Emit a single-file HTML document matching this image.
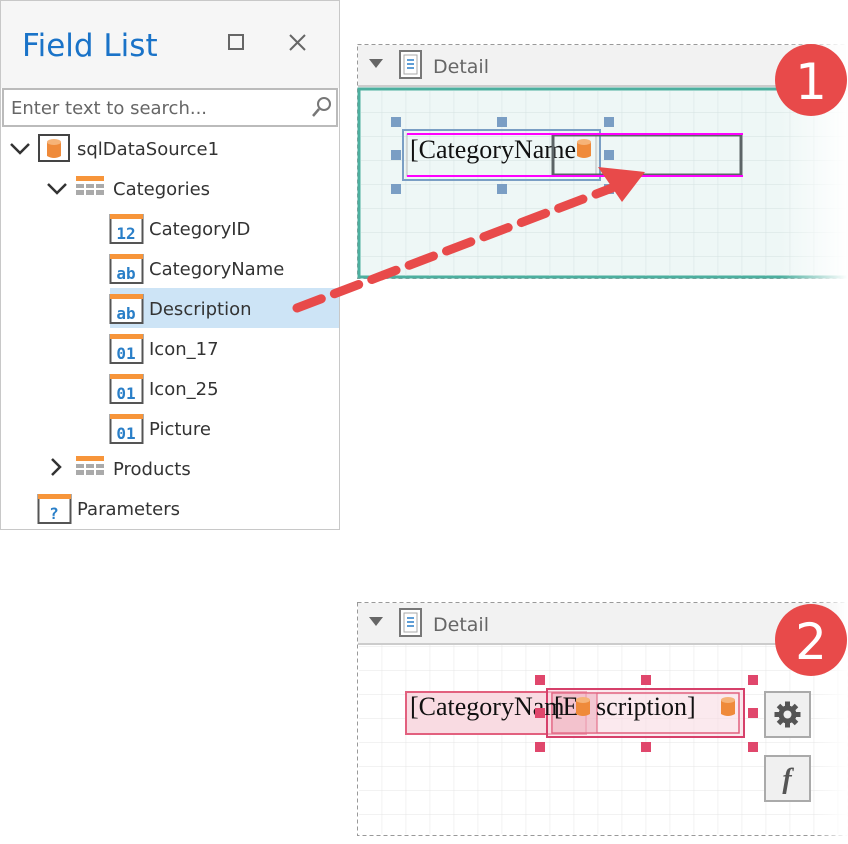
<!DOCTYPE html>
<html><head><meta charset="utf-8"><style>
html,body{margin:0;padding:0;background:#fff;}
svg{display:block;font-family:"Liberation Sans",sans-serif;}
.t{font-family:"DejaVu Sans","Liberation Sans",sans-serif;font-size:18px;fill:#333;}
.serif{font-family:"Liberation Serif",serif;font-size:26px;fill:#111;}
</style></head><body>
<svg width="848" height="844" viewBox="0 0 848 844" xmlns="http://www.w3.org/2000/svg">
<defs>
<pattern id="g1" x="381.7" y="112" width="24" height="24" patternUnits="userSpaceOnUse">
<path d="M0 0V24M0 0H24" stroke="#d4e2e0" stroke-width="1" fill="none"/></pattern>
<pattern id="g2" x="381.7" y="670" width="24" height="24" patternUnits="userSpaceOnUse">
<path d="M0 0V24M0 0H24" stroke="#e4e4e4" stroke-width="1" fill="none"/></pattern>
<linearGradient id="fade" x1="0" x2="1" y1="0" y2="0">
<stop offset="0" stop-color="#fff" stop-opacity="0"/><stop offset="1" stop-color="#fff" stop-opacity="1"/></linearGradient>
<g id="fi"><rect x="0.5" y="0" width="32" height="28" fill="#fff" stroke="#555" stroke-width="2"/><rect x="0" y="-1" width="33" height="5" fill="#f7953a"/></g>
<g id="cyl"><path d="M-7 -7 Q0 -11 7 -7 V7 Q0 11 -7 7Z" fill="#ef8a3a"/><ellipse cx="0" cy="-7" rx="7" ry="3" fill="#f6b378"/></g>
</defs>

<rect x="0.5" y="0.5" width="339" height="529" fill="#fff" stroke="#c8c8c8"/>
<rect x="1" y="1" width="338" height="87" fill="#f6f6f6"/>
<text x="22" y="56" font-family="DejaVu Sans, Liberation Sans, sans-serif" font-size="31" fill="#1a73c8">Field List</text>
<rect x="229" y="35" width="14" height="14" fill="none" stroke="#666" stroke-width="2"/>
<path d="M290 35L305 50M305 35L290 50" stroke="#666" stroke-width="2"/>
<rect x="3" y="89" width="334" height="37" fill="#fff" stroke="#bbb" stroke-width="2"/>
<text x="11" y="114" class="t" style="fill:#666">Enter text to search...</text>
<circle cx="324" cy="104" r="6" fill="none" stroke="#777" stroke-width="2"/><path d="M319 109L313 116" stroke="#777" stroke-width="2.5"/>

<path d="M11 144l9 9 9-9" stroke="#333" stroke-width="2.5" fill="none"/>
<rect x="39" y="135" width="30" height="26" fill="#fff" stroke="#444" stroke-width="2"/>
<use href="#cyl" x="54" y="149"/>
<text x="77" y="155" class="t">sqlDataSource1</text>

<path d="M48 184l9 9 9-9" stroke="#333" stroke-width="2.5" fill="none"/>
<rect x="76" y="176" width="28" height="5" fill="#f7953a"/>
<g fill="#aaa"><rect x="76" y="184" width="8" height="4"/><rect x="86" y="184" width="8" height="4"/><rect x="96" y="184" width="8" height="4"/><rect x="76" y="190" width="8" height="5"/><rect x="86" y="190" width="8" height="5"/><rect x="96" y="190" width="8" height="5"/></g>
<text x="113" y="195" class="t">Categories</text>

<rect x="110" y="288" width="229" height="40" fill="#cde4f6"/>
<g font-family="DejaVu Sans Mono, Liberation Mono, monospace" font-weight="bold" font-size="16" fill="#2a7fc8" text-anchor="middle">
<use href="#fi" x="110" y="215"/><text x="126" y="239">12</text>
<use href="#fi" x="110" y="255"/><text x="126" y="279">ab</text>
<use href="#fi" x="110" y="295"/><text x="126" y="319">ab</text>
<use href="#fi" x="110" y="335"/><text x="126" y="359">01</text>
<use href="#fi" x="110" y="375"/><text x="126" y="399">01</text>
<use href="#fi" x="110" y="415"/><text x="126" y="439">01</text>
<use href="#fi" x="38" y="495"/><text x="54" y="519">?</text>
</g>
<text x="149" y="235" class="t">CategoryID</text>
<text x="149" y="275" class="t">CategoryName</text>
<text x="149" y="315" class="t">Description</text>
<text x="149" y="355" class="t">Icon_17</text>
<text x="149" y="395" class="t">Icon_25</text>
<text x="149" y="435" class="t">Picture</text>
<path d="M52 459l8 8-8 8" stroke="#333" stroke-width="2.5" fill="none"/>
<rect x="76" y="456" width="28" height="5" fill="#f7953a"/>
<g fill="#aaa"><rect x="76" y="464" width="8" height="4"/><rect x="86" y="464" width="8" height="4"/><rect x="96" y="464" width="8" height="4"/><rect x="76" y="470" width="8" height="5"/><rect x="86" y="470" width="8" height="5"/><rect x="96" y="470" width="8" height="5"/></g>
<text x="113" y="475" class="t">Products</text>
<text x="77" y="515" class="t">Parameters</text>

<rect x="357.5" y="44.5" width="490" height="234" fill="none" stroke="#999" stroke-dasharray="4 3"/>
<rect x="358" y="45" width="490" height="43" fill="#f2f2f2"/>
<line x1="358" y1="86" x2="848" y2="86" stroke="#ccc" stroke-width="2"/>
<path d="M369 59h14l-7 9z" fill="#666"/>
<rect x="400" y="51" width="21" height="27" fill="#fff" stroke="#777" stroke-width="2"/><rect x="404" y="55" width="13" height="19" fill="none" stroke="#aaa"/>
<path d="M407 60h7M407 64h7M407 68h7" stroke="#2a7fc8" stroke-width="1.5"/>
<text x="433" y="73" font-family="DejaVu Sans, Liberation Sans, sans-serif" font-size="19" fill="#666">Detail</text>
<rect x="359" y="89" width="489" height="188" fill="#eef7f6" stroke="#4caf9f" stroke-width="3"/>
<rect x="361" y="91" width="487" height="185" fill="url(#g1)"/>
<g fill="#7a9ec4"><rect x="391" y="117" width="10" height="10"/><rect x="497" y="117" width="10" height="10"/><rect x="604" y="117" width="10" height="10"/>
<rect x="391" y="150" width="10" height="10"/><rect x="604" y="150" width="10" height="10"/>
<rect x="391" y="184" width="10" height="10"/><rect x="497" y="184" width="10" height="10"/><rect x="604" y="184" width="10" height="10"/></g>
<rect x="403" y="130" width="197" height="50" fill="none" stroke="#7a9ec4" stroke-width="2"/>
<rect x="407" y="134" width="189" height="42" fill="none" stroke="#bbb" stroke-width="1"/>
<text x="410" y="158" class="serif">[CategoryName</text>
<use href="#cyl" x="584" y="149"/>
<rect x="553" y="135" width="188" height="40" fill="none" stroke="#5c6466" stroke-width="3"/>
<path d="M407 134H743M407 176H743" stroke="#ff00ff" stroke-width="2"/>
<rect x="780" y="40" width="68" height="245" fill="url(#fade)"/>

<line x1="297" y1="308" x2="612" y2="188" stroke="#e84a4a" stroke-width="9" stroke-dasharray="26 14" stroke-linecap="round"/>
<path d="M645 172L598 167L622 202Z" fill="#e84a4a"/>

<circle cx="811" cy="80" r="36" fill="#e84a4a"/>
<text x="811" y="99" font-family="DejaVu Sans, Liberation Sans, sans-serif" font-size="50" fill="#fff" text-anchor="middle">1</text>

<rect x="357.5" y="602.5" width="490" height="233" fill="none" stroke="#999" stroke-dasharray="4 3"/>
<rect x="358" y="603" width="490" height="41" fill="#f2f2f2"/>
<line x1="358" y1="644" x2="848" y2="644" stroke="#ccc" stroke-width="2"/>
<path d="M369 617h14l-7 9z" fill="#666"/>
<rect x="400" y="609" width="21" height="27" fill="#fff" stroke="#777" stroke-width="2"/><rect x="404" y="613" width="13" height="19" fill="none" stroke="#aaa"/>
<path d="M407 618h7M407 622h7M407 626h7" stroke="#2a7fc8" stroke-width="1.5"/>
<text x="433" y="631" font-family="DejaVu Sans, Liberation Sans, sans-serif" font-size="19" fill="#666">Detail</text>
<rect x="359" y="645" width="489" height="189" fill="url(#g2)"/>
<rect x="406" y="692" width="180" height="42" fill="#f9dbe2" stroke="#e2607e" stroke-width="2"/>
<rect x="547" y="689" width="197" height="48" fill="#f9dbe2" fill-opacity="0.6" stroke="#d6406a" stroke-width="2"/>
<rect x="552" y="693" width="187" height="40" fill="none" stroke="#e2607e" stroke-width="1.5"/>
<rect x="552" y="693" width="45" height="40" fill="#eeb0c0" fill-opacity="0.6" stroke="#e2607e" stroke-width="1"/>
<text x="410" y="715" class="serif">[CategoryNam</text>
<text x="554" y="715" class="serif">[E</text>
<text x="596" y="715" class="serif">scription]</text>
<use href="#cyl" x="583" y="707"/>
<use href="#cyl" x="728" y="707"/>
<g fill="#e0476c"><rect x="535" y="675" width="10" height="10"/><rect x="641" y="675" width="10" height="10"/><rect x="748" y="675" width="10" height="10"/>
<rect x="535" y="708" width="10" height="10"/><rect x="748" y="708" width="10" height="10"/>
<rect x="535" y="742" width="10" height="10"/><rect x="641" y="742" width="10" height="10"/><rect x="748" y="742" width="10" height="10"/></g>
<rect x="765" y="692" width="45" height="45" fill="#f0f0f0" stroke="#aaa" stroke-width="2"/>
<g transform="translate(787.5,714.5)" fill="#555">
<circle r="9"/><g stroke="#555" stroke-width="5"><line y1="-13" y2="13"/><line x1="-13" x2="13"/><line x1="-9" y1="-9" x2="9" y2="9"/><line x1="9" y1="-9" x2="-9" y2="9"/></g>
<circle r="4" fill="#f0f0f0"/></g>
<rect x="765" y="756" width="45" height="45" fill="#f0f0f0" stroke="#aaa" stroke-width="2"/>
<text x="787" y="788" font-family="Liberation Serif, serif" font-style="italic" font-weight="bold" font-size="28" fill="#555" text-anchor="middle">f</text>
<rect x="815" y="598" width="33" height="246" fill="url(#fade)"/>

<circle cx="811" cy="640" r="36" fill="#e84a4a"/>
<text x="811" y="659" font-family="DejaVu Sans, Liberation Sans, sans-serif" font-size="50" fill="#fff" text-anchor="middle">2</text>
</svg>
</body></html>
